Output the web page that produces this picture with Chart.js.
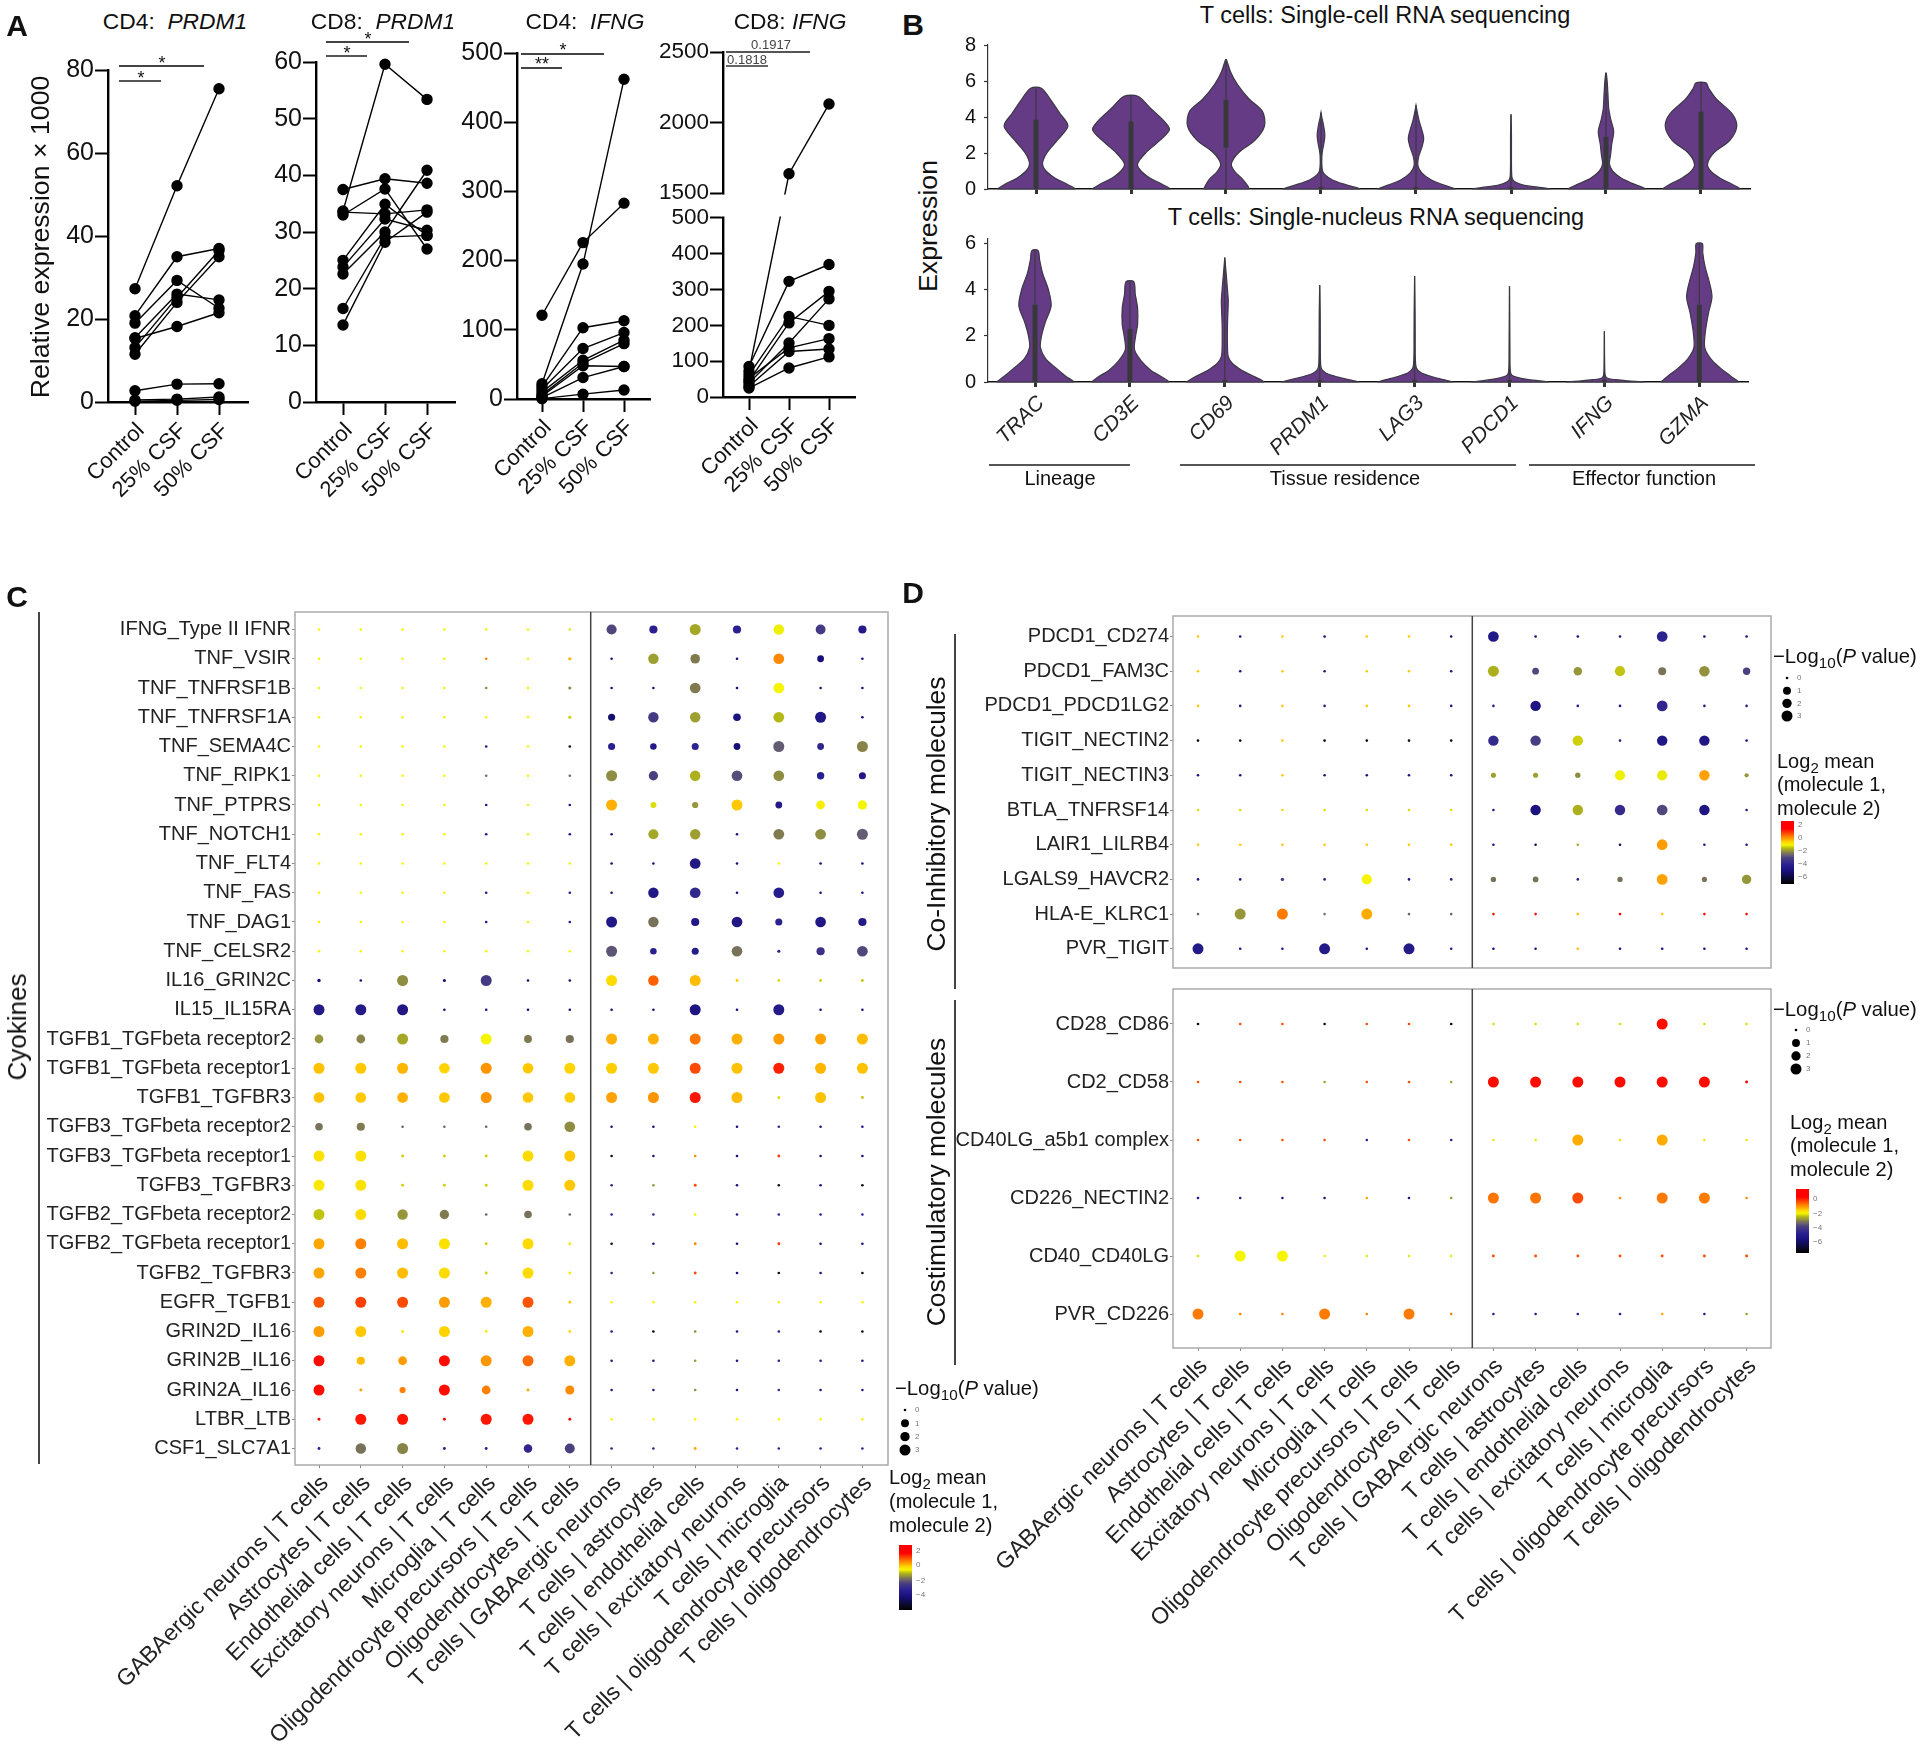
<!DOCTYPE html>
<html>
<head>
<meta charset="utf-8">
<title>T cells</title>
<script src="https://cdn.jsdelivr.net/npm/chart.js@4/dist/chart.umd.js"></script>
<style>
body { margin: 0; background: #fff; }
#page { position: relative; width: 1920px; height: 1747px; overflow: hidden; font-family: "Liberation Sans", Arial, sans-serif; color: #111; }
#page canvas { position: absolute; }
.t { position: absolute; white-space: nowrap; line-height: 1; }
.rule { position: absolute; }
.t sub { font-size: 0.75em; line-height: 0; }
</style>
</head>
<body>
<div id="page"></div>
<script>
// panel A
const conditions = ["Control", "25% CSF", "50% CSF"];
const cd4Prdm1 = [
  [27.3, 52.1, 75.5], [20.8, 35, 37], [19, 29.3, 22.6], [15.3, 18.2, 21.5], [15.5, 26, 24.6],
  [13.1, 25.2, 36.5], [11.5, 24, 35], [2.7, 4.3, 4.4], [0.5, 0.7, 1.2], [0.2, 0.4, 0.6]
];
const cd8Prdm1 = [
  [33.7, 59.6, 53.4], [37.5, 39.4, 38.6], [33, 37.6, 27], [33.5, 33.2, 33.9], [25, 34.9, 29.4],
  [23.8, 32.3, 30.3], [22.6, 30, 40.9], [16.5, 29.1, 29.4], [13.6, 28.2, 33.5]
];
const cd4Ifng = [
  [121, 226, 283], [22, 195, 462], [18, 103, 113], [14, 73, 96], [10, 56, 85],
  [6, 52, 80], [4, 48, 47], [2, 31, 47], [0.5, 7, 13]
];
const cd8Ifng = [
  [72, 1637, 2131], [85, 323, 370], [62, 225, 200], [45, 207, 295], [39, 151, 274],
  [52, 137, 163], [30, 127, 134], [25, 81, 112]
];
const brokenTicks = [0, 100, 200, 300, 400, 500, 1500, 2000, 2500];

// panel B, [expression, relative half width] going up each violin
const genes = ["TRAC", "CD3E", "CD69", "PRDM1", "LAG3", "PDCD1", "IFNG", "GZMA"];
const scViolins = [
  [[0,1],[.25,.82],[.6,.5],[1,.26],[1.4,.17],[2,.28],[2.7,.55],[3.5,.83],[4.2,.62],[4.9,.4],[5.6,.14]],
  [[0,1],[.25,.82],[.6,.5],[1,.26],[1.4,.17],[2,.38],[2.7,.75],[3.3,1],[3.8,.85],[4.5,.5],[5.15,.18]],
  [[0,.58],[.5,.45],[1,.22],[1.4,.14],[2,.32],[2.7,.75],[3.5,1],[4.3,.95],[5,.6],[5.8,.3],[6.5,.12],[7.2,.01]],
  [[0,1],[.2,.7],[.5,.3],[.8,.1],[1,.04],[1.5,.02],[2,.03],[2.6,.08],[3,.1],[3.5,.07],[4,.02],[4.25,0]],
  [[0,1],[.2,.75],[.5,.4],[.9,.15],[1.3,.05],[1.8,.07],[2.3,.15],[2.8,.2],[3.3,.15],[3.8,.08],[4.3,.03],[4.65,0]],
  [[0,1],[.1,.7],[.2,.35],[.4,.1],[.6,.03],[1,.015],[2,.012],[3,.012],[4.15,0]],
  [[0,1],[.3,.7],[.6,.4],[1,.17],[1.4,.09],[1.9,.12],[2.5,.15],[3.2,.2],[3.9,.12],[4.5,.07],[5.3,.05],[6,.03],[6.45,.005]],
  [[0,1],[.25,.82],[.6,.5],[1,.25],[1.4,.17],[2,.33],[2.7,.75],[3.5,.93],[4.2,.8],[5,.4],[5.6,.2],[5.9,.13]]
];
const snViolins = [
  [[0,1],[.25,.8],[.6,.55],[1,.28],[1.5,.14],[2,.17],[2.6,.27],[3.3,.42],[4,.35],[4.7,.2],[5.3,.12],[5.7,.08]],
  [[0,1],[.25,.8],[.5,.55],[.9,.3],[1.4,.12],[2,.15],[2.5,.2],[3.2,.2],[3.8,.14],[4.35,.1]],
  [[0,1],[.25,.75],[.5,.45],[.8,.2],[1.1,.09],[1.5,.07],[2.5,.07],[3.5,.09],[4,.07],[4.8,.03],[5.4,0]],
  [[0,1],[.1,.75],[.25,.4],[.4,.15],[.6,.04],[1,.02],[2,.015],[3,.012],[4.2,0]],
  [[0,.97],[.1,.75],[.25,.42],[.4,.17],[.6,.05],[1,.02],[2,.015],[3,.012],[4.6,0]],
  [[0,1],[.1,.5],[.2,.2],[.3,.06],[.5,.02],[1.5,.01],[4.15,0]],
  [[0,1],[.05,.6],[.1,.3],[.15,.1],[.25,.03],[.5,.01],[2.2,0]],
  [[0,1],[.25,.82],[.6,.55],[1,.3],[1.5,.14],[2.2,.16],[3,.24],[3.7,.33],[4.4,.25],[5,.15],[5.6,.09],[6,.08]]
];
const scBox = [[0,3.85],[0,3.75],[2.3,4.95],[0,.1],[0,.1],[0,.1],[0,2.9],[0,4.3]];
const snBox = [[0,3.35],[0,2.3],[0,.1],[0,.1],[0,.1],[0,.1],[0,.1],[0,3.35]];

// panels C and D
const pairs = [
  "GABAergic neurons | T cells", "Astrocytes | T cells", "Endothelial cells | T cells",
  "Excitatory neurons | T cells", "Microglia | T cells", "Oligodendrocyte precursors | T cells",
  "Oligodendrocytes | T cells", "T cells | GABAergic neurons", "T cells | astrocytes",
  "T cells | endothelial cells", "T cells | excitatory neurons", "T cells | microglia",
  "T cells | oligodendrocyte precursors", "T cells | oligodendrocytes"
];
const cytokines = [
  "IFNG_Type II IFNR", "TNF_VSIR", "TNF_TNFRSF1B", "TNF_TNFRSF1A", "TNF_SEMA4C", "TNF_RIPK1", "TNF_PTPRS",
  "TNF_NOTCH1", "TNF_FLT4", "TNF_FAS", "TNF_DAG1", "TNF_CELSR2", "IL16_GRIN2C", "IL15_IL15RA",
  "TGFB1_TGFbeta receptor2", "TGFB1_TGFbeta receptor1", "TGFB1_TGFBR3", "TGFB3_TGFbeta receptor2",
  "TGFB3_TGFbeta receptor1", "TGFB3_TGFBR3", "TGFB2_TGFbeta receptor2", "TGFB2_TGFbeta receptor1",
  "TGFB2_TGFBR3", "EGFR_TGFB1", "GRIN2D_IL16", "GRIN2B_IL16", "GRIN2A_IL16", "LTBR_LTB", "CSF1_SLC7A1"
];
const cytokineMean = [
  [-1,-1,-1,-1,-1,-1,-1.1, -2.9,-4,-1.7,-4,-1.05,-3.2,-4.3],
  [-1,-1,-1,-1,.3,-1,-.2, -5,-1.8,-2.2,-5,.2,-5,-5],
  [-1,-1,-1,-1,-2,-1,-2, -5,-5,-2.2,-5,-1,-5,-5],
  [-1,-1,-1,-1,-1,-1,-1.3, -5.2,-3.2,-1.8,-4.8,-1.5,-4.5,-5],
  [-1,-1,-1,-1,-4.5,-1,-6.5, -4,-4.3,-3.9,-5,-2.6,-3.8,-2.1],
  [-1,-1,-1,-1,-2.3,-1,-2.5, -2,-3,-1.6,-2.8,-2,-4,-4.5],
  [-1,-1,-1,-1,-4.5,-1,-4.5, -.2,-1.2,-1.9,-.4,-4.3,-.9,-1],
  [-1,-1,-1,-1,-4.5,-1,-4.5, -5,-1.7,-1.8,-5,-2.2,-2,-2.6],
  [-1,-1,-1,-1,-1,-1,-1, -5,-5,-4.5,-5,-1,-5,-5],
  [-1,-1,-1,-1,-4.5,-1,-4.5, -5,-4.5,-3.8,-5,-4.2,-5,-5],
  [-1,-1,-1,-1,-4.5,-1,-4.5, -4.5,-2.3,-4.5,-4.5,-4,-4.5,-4.4],
  [-1,-1,-1,-1,-1,-1,-1, -2.7,-4,-4.2,-2.3,-4,-3.5,-2.9],
  [-5,-5,-2,-5.2,-3.2,-5.2,-5.2, -.6,.6,-.3,-.4,-1.2,-1.3,-1.4],
  [-4.3,-4.3,-4.5,-5,-5,-5,-5, -5,-5,-4.7,-5,-4.3,-5,-5],
  [-1.9,-2.1,-1.7,-2.2,-1,-2.2,-2.3, -.2,-.2,.4,-.2,0,-.05,-.3],
  [-.35,-.4,-.25,-.5,.1,-.4,-.5, -.45,-.4,.8,-.35,1.2,-.25,-.35],
  [-.35,-.4,-.2,-.4,.1,-.4,-.45, -.05,.1,1.3,-.3,-1.2,-.35,-1.4],
  [-2.3,-2.2,-2.5,-2.5,-2.5,-2.3,-2, -5,-5,-1,-5,-3.8,-5,-4.5],
  [-.7,-.7,-1.3,-1.3,-1.3,-.6,-.4, -6.5,-5,.2,-5,1,-5,-5],
  [-.8,-.7,-1.3,-1.3,-1.3,-.6,-.4, -4,-1.9,.8,-5,-6.5,-5,-6.5],
  [-1.4,-.6,-1.9,-2.2,-2.5,-2.3,-2.5, -4,-4,-1,-4.2,-4,-4.2,-4.2],
  [-.1,.3,-.3,-.7,-1.3,-.6,-.8, -6.5,-5,.2,-5,1,-5,-5],
  [-.1,.3,-.3,-.6,-1.3,-.6,-.8, -4,-1.9,.8,-5,-6.5,-5,-6.5],
  [.7,.9,.8,0,-.2,.7,-.4, -1,-1,-1,-1,-1,-1,-1],
  [0,-.4,-.8,-.5,-.9,-.2,-.6, -4.5,-6.5,-2,-4.5,-4.2,-6.5,-6.5],
  [1.4,-.3,0,1.4,.05,.5,-.2, -4.5,-4.5,-1.9,-4.5,-4,-4.5,-4.5],
  [1.4,0,.3,1.4,.3,-.1,.2, -4.5,-4.5,-2,-4.5,-3.7,-4.5,-4.5],
  [1.5,1.3,1.3,1.5,1.3,1.3,1.5, -1,-1,-1,-1,-1,-1,-1],
  [-4,-2.3,-2.1,-4,-4,-3.8,-3, -4,-4,-.1,-4,-4,-4,-4]
];
const cytokineSize = [
  [0,0,0,0,0,0,0, 2.7,2,3,2,2.8,2.6,2],
  [0,0,0,0,0,0,.2, 0,2.8,2.5,0,2.9,1.5,0],
  [0,0,0,0,0,0,.2, 0,0,2.9,0,2.9,0,0],
  [0,0,0,0,0,0,.2, 1.6,2.8,2.8,1.8,2.9,3,0],
  [0,0,0,0,0,0,0, 1.6,1.4,1.6,1.5,3,1.5,3],
  [0,0,0,0,0,0,0, 3,2.4,2.8,2.9,2.9,1.7,1.6],
  [0,0,0,0,0,0,0, 3,1.2,1.3,3,1.5,2.2,2.4],
  [0,0,0,0,0,0,0, 0,2.7,2.8,0,2.9,2.9,3],
  [0,0,0,0,0,0,0, 0,0,2.9,0,0,0,0],
  [0,0,0,0,0,0,0, 0,2.8,2.9,0,2.9,0,0],
  [0,0,0,0,0,0,0, 3,2.8,2,2.9,1.6,2.9,2],
  [0,0,0,0,0,0,0, 3,1.4,1.6,2.9,.2,2,2.9],
  [.3,0,3,.2,3,0,0, 3,2.8,3,.1,.1,.1,.1],
  [3,3,3,0,0,0,0, 0,0,3,0,3,0,0],
  [2.2,2.2,3,2,3,1.9,2, 3,3,3,3,3,3,3],
  [3,3,3,2.9,3,2.9,3, 3,3,3,3,3,3,3],
  [2.9,2.9,2.9,2.9,3,2.9,2.9, 3,3,3,3,.15,3,.1],
  [1.8,2,0,0,0,1.8,2.9, 0,0,0,0,0,0,0],
  [3,3,.1,.1,.1,3,3, 0,0,0,0,.1,0,0],
  [3,3,.1,.1,.1,3,3, 0,0,.1,0,0,0,0],
  [3,3,2.8,2.4,0,1.8,0, 0,0,0,0,0,0,0],
  [3,3,3,3,.1,3,.1, 0,0,.1,0,.1,0,0],
  [3,3,3,3,.1,3,.1, 0,0,.1,0,0,0,0],
  [3,3,3,3,3,3,.1, 0,0,0,0,0,0,0],
  [3,3,.1,3,.1,3,.1, 0,0,0,0,0,0,0],
  [3,2,2.2,3,3,3,3, 0,0,0,0,0,0,0],
  [3,.1,1.3,3,2.2,.1,2.3, 0,0,0,0,0,0,0],
  [.1,3,3,.1,3,3,.1, 0,0,0,0,0,0,0],
  [.1,2.8,3,.1,.1,2.1,2.6, 0,0,.1,0,0,0,0]
];
const inhibitory = [
  "PDCD1_CD274", "PDCD1_FAM3C", "PDCD1_PDCD1LG2", "TIGIT_NECTIN2", "TIGIT_NECTIN3",
  "BTLA_TNFRSF14", "LAIR1_LILRB4", "LGALS9_HAVCR2", "HLA-E_KLRC1", "PVR_TIGIT"
];
const inhibitoryMean = [
  [-.4,-5,-.4,-5,-.4,-.4,-5, -4.4,-5,-5,-5,-3.9,-5,-5],
  [-.4,-4.5,-.4,-4.5,-.4,-.4,-4.5, -1.6,-2.9,-1.9,-1.4,-2.3,-1.95,-3],
  [-.4,-4.5,-.4,-4.5,-.4,-.4,-4.5, -4.5,-4.7,-4.5,-4.5,-3.8,-4.5,-4.5],
  [-6.5,-6.5,-.4,-6.5,-6.5,-6.5,-6.5, -3.7,-3.1,-1.3,-4.5,-4.5,-4.5,-4.5],
  [-4.8,-4.8,-.4,-4.8,-4.8,-4.8,-4.8, -1.8,-1.8,-2,-1.05,-1.1,-.05,-1.9],
  [-1.2,-1.2,-.5,-1.2,-1.2,-1.2,-1.2, -4.5,-4.8,-1.6,-3.7,-2.9,-4.6,-4.5],
  [-.4,-.4,-.4,-.4,-.4,-.4,-.4, -4.5,-5.5,-1.7,-5.5,0,-4.5,-4.5],
  [-4.5,-4.5,-3.1,-4.5,-1,-4.5,-4.5, -2.3,-2.3,-4.5,-2.3,-.05,-2.3,-1.9],
  [-2.5,-1.9,.35,-2.3,-.15,-2.5,-2.5, 1.4,1.4,-.3,1.4,-.4,1.4,1.4],
  [-4.3,-4.5,-4.5,-4.3,-4.5,-4.3,-4.5, -4.7,-4.7,-.3,-4.7,-4.7,-4.7,-4.7]
];
const inhibitorySize = [
  [0,0,0,0,0,0,0, 2.9,0,0,0,2.9,0,0],
  [0,0,0,0,0,0,0, 3,1.5,2.1,2.7,1.9,2.8,1.7],
  [0,0,0,0,0,0,0, 0,2.8,0,0,2.9,0,0],
  [0,0,0,0,0,0,0, 2.8,2.8,2.8,0,2.8,2.8,0],
  [0,0,0,0,0,0,0, .9,.9,1,2.7,2.7,2.8,.6],
  [0,0,0,0,0,0,0, 0,2.8,2.8,2.8,2.9,2.8,0],
  [0,0,0,0,0,0,0, 0,0,0,0,2.9,0,0],
  [0,0,.3,0,2.7,0,0, 1,1.1,0,1,2.9,.9,2.4],
  [0,3,3,0,3,0,0, 0,0,0,0,0,0,0],
  [3,0,0,3,0,3,0, 0,0,0,0,0,0,0]
];
const costimulatory = ["CD28_CD86", "CD2_CD58", "CD40LG_a5b1 complex", "CD226_NECTIN2", "CD40_CD40LG", "PVR_CD226"];
const costimulatoryMean = [
  [-6.5,.8,.8,-6.5,.8,.8,-6.5, -1.2,-1.2,-1.2,-1.2,1.4,-1.2,-1.2],
  [.8,.8,.8,-1.8,.8,.8,-1.8, 1.4,1.4,1.4,1.4,1.4,1.4,1.5],
  [.8,.8,.8,.8,-4,.8,-4, -1.1,-1.1,-.15,-1.1,-.15,-1.1,-1.1],
  [-4.5,-4.5,-4.5,-4.5,-.1,-4.5,-1.9, .4,.4,.8,.2,.35,.35,.2],
  [-1.2,-1,-1,-1.1,-1.1,-1.1,-1.1, .8,.8,.8,.8,.8,.8,.8],
  [.35,.3,.3,.35,.3,.35,.3, -4.3,-4.3,-4.3,-4.3,-.1,-4.3,-1.8]
];
const costimulatorySize = [
  [0,0,0,0,0,0,0, 0,0,0,0,3,0,0],
  [0,0,0,0,0,0,0, 3,3,3,3,3,3,.1],
  [0,0,0,0,0,0,0, 0,0,3,0,3,0,0],
  [0,0,0,0,0,0,0, 3,3,3,0,3,3,0],
  [0,3,3,0,0,0,0, .1,.1,.1,.1,.1,.1,.1],
  [3,0,0,3,0,3,0, 0,0,0,0,0,0,0]
];
const legendLevels = [0, 1.9, 2.4, 3];
const legendNames = ["0", "1", "2", "3"];
// log2 mean -> colour
const meanStops = [
  [2.7, "#ff0000"], [1.5, "#ff0000"], [.8, "#ff4a00"], [.3, "#ff8000"], [-.2, "#ffb000"], [-.5, "#ffd400"],
  [-1, "#f5f500"], [-1.5, "#b4b814"], [-1.9, "#96963a"], [-2.2, "#7f7a50"], [-2.5, "#6b6370"], [-3, "#4a4080"],
  [-4, "#2a2090"], [-5, "#17107a"], [-6.5, "#08081a"], [-7, "#000000"]
];

const page = document.getElementById("page");

function hex(c) {
  return [1, 3, 5].map(i => parseInt(c.substr(i, 2), 16));
}
function meanColor(v) {
  for (let i = 1; i < meanStops.length; i++) {
    if (v >= meanStops[i][0]) {
      const a = meanStops[i - 1], b = meanStops[i];
      const f = (v - b[0]) / (a[0] - b[0]);
      const ca = hex(a[1]), cb = hex(b[1]);
      return "rgb(" + ca.map((x, k) => Math.round(cb[k] + (x - cb[k]) * f)).join(",") + ")";
    }
  }
  return "#000";
}

function txt(html, x, y, o) {
  o = o || {};
  const el = document.createElement("div");
  el.className = "t";
  el.innerHTML = html;
  el.style.left = x + "px";
  el.style.top = y + "px";
  el.style.fontSize = (o.size || 20) + "px";
  if (o.weight) el.style.fontWeight = o.weight;
  if (o.color) el.style.color = o.color;
  const ax = o.anchor === "l" ? "0" : "-50%";
  el.style.transform = "translate(" + ax + ",-50%)" + (o.rotate ? " rotate(" + o.rotate + "deg)" : "");
  page.appendChild(el);
}
function rule(x0, y0, x1, y1, color, w) {
  const el = document.createElement("div");
  el.className = "rule";
  w = w || 1.5;
  el.style.left = x0 + "px";
  el.style.top = y0 + "px";
  el.style.width = (x1 > x0 ? x1 - x0 : w) + "px";
  el.style.height = (y1 > y0 ? y1 - y0 : w) + "px";
  el.style.background = color || "#555";
  page.appendChild(el);
}

// canvas placed so that the plot area lands exactly on the given box
function frame(plot, m) {
  const c = document.createElement("canvas");
  const w = plot.r - plot.l + m.l + m.r, h = plot.b - plot.t + m.t + m.b;
  c.style.left = (plot.l - m.l) + "px";
  c.style.top = (plot.t - m.t) + "px";
  c.style.width = w + "px";
  c.style.height = h + "px";
  c.width = w;
  c.height = h;
  page.appendChild(c);
  return {
    ctx: c.getContext("2d"),
    padding: { left: 0, top: m.t, right: m.r, bottom: 0 },
    fitY: s => { s.width = m.l; s.paddingTop = 0; s.paddingBottom = 0; },
    fitX: s => { s.height = m.b; s.paddingLeft = 0; s.paddingRight = 0; }
  };
}
const baseOptions = { responsive: false, animation: false, events: [], devicePixelRatio: 1 };
const quiet = { legend: { display: false }, tooltip: { enabled: false } };

class BrokenAxis extends Chart.LinearScale {
  getPixelForValue(v) {
    const h = this.bottom - this.top;
    if (v <= 500) return this.bottom - (v / 500) * h * 0.519;
    if (v <= 1500) return this.bottom - (0.519 + (v - 500) / 1000 * 0.072) * h;
    return this.bottom - (0.591 + (v - 1500) / 1000 * 0.409) * h;
  }
}
BrokenAxis.id = "brokenAxis";
BrokenAxis.defaults = Chart.LinearScale.defaults;
Chart.register(BrokenAxis);

const gapPlugin = {
  id: "gapPlugin",
  afterDatasetsDraw(chart) {
    const y = chart.scales.y, ctx = chart.ctx;
    const left = chart.chartArea.left - 2;
    ctx.fillStyle = "#fff";
    ctx.fillRect(left, y.getPixelForValue(1500) + 1.5, chart.width - left, y.getPixelForValue(500) - y.getPixelForValue(1500) - 3);
  }
};

function linePanel(series, plot, xs, yOpts, extra) {
  const f = frame(plot, { l: 85, t: 14, r: 10, b: 100 });
  const step = xs[1] - xs[0];
  new Chart(f.ctx, {
    type: "scatter",
    plugins: extra ? [extra] : [],
    data: {
      datasets: series.map(s => ({
        data: s.map((v, i) => ({ x: i + 1, y: v })),
        showLine: true,
        borderColor: "#000",
        borderWidth: 1.4,
        backgroundColor: "#000",
        pointRadius: 5,
        clip: false
      }))
    },
    options: Object.assign({}, baseOptions, {
      layout: { padding: f.padding, autoPadding: false },
      plugins: quiet,
      scales: {
        x: {
          type: "linear",
          min: 1 + (plot.l - xs[0]) / step,
          max: 1 + (plot.r - xs[0]) / step,
          afterFit: f.fitX,
          afterBuildTicks: s => { s.ticks = conditions.map((_, i) => ({ value: i + 1 })); },
          border: { color: "#000", width: 2.4 },
          grid: { drawOnChartArea: false, tickLength: 13, tickWidth: 2, tickColor: "#000" },
          ticks: {
            autoSkip: false, minRotation: 45, maxRotation: 45, padding: 3, labelOffset: 6,
            color: "#111", font: { family: "Liberation Sans", size: 22 },
            callback: v => conditions[v - 1]
          }
        },
        y: Object.assign({
          afterFit: f.fitY,
          border: { color: "#000", width: 2.4 },
          grid: { drawOnChartArea: false, tickLength: 13, tickWidth: 2, tickColor: "#000" }
        }, yOpts)
      }
    })
  });
}
const tickFontA = { color: "#111", padding: 1, font: { family: "Liberation Sans", size: 25 } };

linePanel(cd4Prdm1, { l: 108, t: 70, r: 248, b: 402 }, [135, 177, 219],
  { min: 0, max: 80, ticks: Object.assign({ stepSize: 20 }, tickFontA) });
linePanel(cd8Prdm1, { l: 316, t: 62, r: 455, b: 402 }, [343, 385, 427],
  { min: 0, max: 60, ticks: Object.assign({ stepSize: 10 }, tickFontA) });
linePanel(cd4Ifng, { l: 517, t: 53, r: 650, b: 399 }, [542, 583, 623],
  { min: 0, max: 500, ticks: Object.assign({ stepSize: 100 }, tickFontA) });
linePanel(cd8Ifng, { l: 723, t: 52, r: 855, b: 397 }, [749, 789, 829],
  {
    type: "brokenAxis", min: 0, max: 2500,
    afterBuildTicks: s => { s.ticks = brokenTicks.map(v => ({ value: v })); },
    ticks: {
      color: "#111", padding: 1, font: { family: "Liberation Sans", size: 22.5 },
      callback: v => String(v)
    }
  }, gapPlugin);

txt("CD4:&nbsp; <i>PRDM1</i>", 175, 21, { size: 22.8 });
txt("CD8:&nbsp; <i>PRDM1</i>", 383, 21, { size: 22.8 });
txt("CD4:&nbsp; <i>IFNG</i>", 585, 21, { size: 22.8 });
txt("CD8: <i>IFNG</i>", 790, 21, { size: 22.8 });
txt("Relative expression × 1000", 40, 237, { size: 26.7, rotate: -90 });

// significance brackets
rule(119, 65, 204, 65, "#444"); txt("*", 162, 63, { size: 18 });
rule(119, 80, 161, 80, "#555"); txt("*", 141, 78, { size: 18 });
rule(326, 41, 409, 41, "#444"); txt("*", 368, 39, { size: 18 });
rule(326, 55, 367, 55, "#555"); txt("*", 347, 53, { size: 18 });
rule(521, 53, 604, 53, "#444"); txt("*", 563, 50, { size: 18 });
rule(521, 67, 562, 67, "#444"); txt("**", 542, 64, { size: 18 });
rule(726, 51, 810, 51, "#555"); txt("0.1917", 771, 44, { size: 13, color: "#444" });
rule(726, 65, 768, 65, "#666"); txt("0.1818", 747, 59, { size: 13, color: "#444" });

function violinPanel(violins, boxes, plot, first, step, yMax, withLabels) {
  const f = frame(plot, { l: 40, t: 8, r: 10, b: withLabels ? 90 : 10 });
  const datasets = [];
  violins.forEach((profile, g) => {
    const c = g + 1;
    const left = profile.map(p => ({ x: c - p[1] * 0.405, y: p[0] }));
    const right = profile.map(p => ({ x: c + p[1] * 0.405, y: p[0] })).reverse();
    datasets.push({
      data: left.concat(right, [left[0]]),
      showLine: true,
      tension: 0.3,
      fill: "shape",
      backgroundColor: "#643b84",
      borderColor: "#3d3846",
      borderWidth: 1.2,
      pointRadius: 0,
      clip: false,
      order: 3
    });
    datasets.push({
      data: [{ x: c, y: profile[0][0] }, { x: c, y: profile[profile.length - 1][0] }],
      showLine: true, borderColor: "#3a3a3e", borderWidth: 1.2, pointRadius: 0, order: 2
    });
    datasets.push({
      data: [{ x: c, y: boxes[g][0] }, { x: c, y: boxes[g][1] }],
      showLine: true, borderColor: "#38383c", borderWidth: 5, pointRadius: 0, clip: false, order: 1
    });
  });
  new Chart(f.ctx, {
    type: "scatter",
    data: { datasets: datasets },
    options: Object.assign({}, baseOptions, {
      layout: { padding: f.padding, autoPadding: false },
      plugins: quiet,
      scales: {
        x: {
          type: "linear",
          min: 1 + (plot.l - first) / step,
          max: 1 + (plot.r - first) / step,
          afterFit: f.fitX,
          afterBuildTicks: s => { s.ticks = genes.map((_, i) => ({ value: i + 1 })); },
          border: { color: "#111", width: 1.5 },
          grid: { drawOnChartArea: false, tickLength: 5, tickWidth: 3, tickColor: "#333" },
          ticks: {
            display: !!withLabels, autoSkip: false, minRotation: 45, maxRotation: 45, padding: 4, labelOffset: 6,
            color: "#222", font: { family: "Liberation Sans", size: 21, style: "italic" },
            callback: v => genes[v - 1]
          }
        },
        y: {
          min: 0, max: yMax,
          afterFit: f.fitY,
          afterBuildTicks: s => { s.ticks = [0, 2, 4, 6, 8].filter(v => v <= yMax).map(v => ({ value: v })); },
          border: { color: "#333", width: 1.2 },
          grid: { drawOnChartArea: false, tickLength: 4, tickWidth: 1.2, tickColor: "#333" },
          ticks: { color: "#111", padding: 8, font: { family: "Liberation Sans", size: 20 } }
        }
      }
    })
  });
}
violinPanel(scViolins, scBox, { l: 988, t: 45, r: 1750, b: 189 }, 1036, 95, 8, false);
violinPanel(snViolins, snBox, { l: 988, t: 239, r: 1748, b: 382 }, 1035, 94.9, 6.2, true);

txt("T cells: Single-cell RNA sequencing", 1385, 16, { size: 23.5 });
txt("T cells: Single-nucleus RNA sequencing", 1376, 218, { size: 23.5 });
txt("Expression", 928, 226, { size: 26.7, rotate: -90 });
rule(989, 464, 1130, 464, "#555"); txt("Lineage", 1060, 478, { size: 20 });
rule(1180, 464, 1516, 464, "#555"); txt("Tissue residence", 1345, 478, { size: 20 });
rule(1529, 464, 1755, 464, "#555"); txt("Effector function", 1644, 478, { size: 20 });

function sizeRadius(level) {
  return 1.3 + 1.4 * level;
}
const boxPlugin = {
  id: "boxPlugin",
  beforeDatasetsDraw(chart) {
    const a = chart.chartArea, ctx = chart.ctx;
    const mid = chart.scales.x.getPixelForValue(7.5);
    ctx.strokeStyle = "#aaa";
    ctx.lineWidth = 1.5;
    ctx.strokeRect(a.left, a.top, a.right - a.left, a.bottom - a.top);
    ctx.strokeStyle = "#444";
    ctx.beginPath();
    ctx.moveTo(mid, a.top);
    ctx.lineTo(mid, a.bottom);
    ctx.stroke();
  }
};

function dotPanel(rows, mean, size, plot, col0, colStep, row0, rowStep, withLabels) {
  const f = frame(plot, { l: 290, t: 4, r: 6, b: withLabels ? 290 : 4 });
  const points = [], colors = [];
  rows.forEach((_, r) => {
    pairs.forEach((__, c) => {
      points.push({ x: c + 1, y: r, r: sizeRadius(size[r][c]) });
      colors.push(meanColor(mean[r][c]));
    });
  });
  new Chart(f.ctx, {
    type: "bubble",
    plugins: [boxPlugin],
    data: { datasets: [{ data: points, backgroundColor: colors, borderWidth: 0, clip: false }] },
    options: Object.assign({}, baseOptions, {
      layout: { padding: f.padding, autoPadding: false },
      plugins: quiet,
      scales: {
        x: {
          type: "linear",
          min: 1 + (plot.l - col0) / colStep,
          max: 1 + (plot.r - col0) / colStep,
          afterFit: f.fitX,
          afterBuildTicks: s => { s.ticks = pairs.map((_, i) => ({ value: i + 1 })); },
          border: { display: false },
          grid: { drawOnChartArea: false, drawTicks: !!withLabels, tickLength: 3, tickWidth: 1, tickColor: "#888" },
          ticks: {
            display: !!withLabels, autoSkip: false, minRotation: 45, maxRotation: 45, padding: 2, labelOffset: 6,
            color: "#222", font: { family: "Liberation Sans", size: 23 },
            callback: v => pairs[v - 1]
          }
        },
        y: {
          type: "linear",
          reverse: true,
          min: (plot.t - row0) / rowStep,
          max: (plot.b - row0) / rowStep,
          afterFit: f.fitY,
          afterBuildTicks: s => { s.ticks = rows.map((_, i) => ({ value: i })); },
          border: { display: false },
          grid: { drawOnChartArea: false, tickLength: 3, tickWidth: 1, tickColor: "#888" },
          ticks: {
            autoSkip: false, padding: 1,
            color: "#222", font: { family: "Liberation Sans", size: 20 },
            callback: v => rows[v]
          }
        }
      }
    })
  });
}
dotPanel(cytokines, cytokineMean, cytokineSize, { l: 295, t: 612, r: 888, b: 1465 }, 319, 41.8, 629.5, 29.25, true);
dotPanel(inhibitory, inhibitoryMean, inhibitorySize, { l: 1173, t: 616, r: 1771, b: 968 }, 1198, 42.2, 636.5, 34.7, false);
dotPanel(costimulatory, costimulatoryMean, costimulatorySize, { l: 1173, t: 989, r: 1771, b: 1348 }, 1198, 42.2, 1024, 58, true);

function sizeLegend(cx, y0, y3) {
  const plot = { l: cx - 8, r: cx + 8, t: y0 - 7, b: y3 + 7 };
  const f = frame(plot, { l: 0, t: 0, r: 20, b: 0 });
  const step = (y3 - y0) / 3;
  new Chart(f.ctx, {
    type: "bubble",
    data: {
      datasets: [{
        data: legendLevels.map((v, i) => ({ x: 0, y: i, r: sizeRadius(v) })),
        backgroundColor: "#000", borderWidth: 0, clip: false
      }]
    },
    options: Object.assign({}, baseOptions, {
      layout: { padding: { right: 0, left: 0, top: 0, bottom: 0 }, autoPadding: false },
      plugins: quiet,
      scales: {
        x: { display: false, min: -1, max: 1 },
        y: {
          position: "right",
          reverse: true,
          min: -7 / step,
          max: 3 + 7 / step,
          afterFit: s => { s.width = 20; s.paddingTop = 0; s.paddingBottom = 0; },
          afterBuildTicks: s => { s.ticks = legendNames.map((_, i) => ({ value: i })); },
          border: { display: false },
          grid: { display: false, drawTicks: false },
          ticks: { padding: 2, color: "#777", font: { family: "Liberation Sans", size: 8 }, callback: v => legendNames[v] }
        }
      }
    })
  });
}
function colorBar(x0, x1, y0, y1, labels) {
  const el = document.createElement("div");
  el.className = "rule";
  el.style.left = x0 + "px";
  el.style.top = y0 + "px";
  el.style.width = (x1 - x0) + "px";
  el.style.height = (y1 - y0) + "px";
  const parts = meanStops.map(s => s[1] + " " + ((2.7 - s[0]) / 9.7 * 100).toFixed(1) + "%");
  el.style.background = "linear-gradient(to bottom," + parts.join(",") + ")";
  page.appendChild(el);
  labels.forEach(l => txt(l[0], x1 + 4, l[1], { size: 8, color: "#777", anchor: "l" }));
}
function legendTitle(x, y) {
  txt("−Log<sub>10</sub>(<i>P</i> value)", x, y, { size: 20.3, anchor: "l" });
}
function meanTitle(x, y0, y1, y2) {
  txt("Log<sub>2</sub> mean", x, y0, { size: 20, anchor: "l" });
  txt("(molecule 1,", x, y1, { size: 20, anchor: "l" });
  txt("molecule 2)", x, y2, { size: 20, anchor: "l" });
}

legendTitle(895, 1388);
sizeLegend(905, 1410, 1450);
meanTitle(889, 1477, 1501, 1525);
colorBar(899, 912, 1545, 1610, [["2", 1551], ["0", 1565], ["−2", 1581], ["−4", 1595]]);

legendTitle(1773, 656);
sizeLegend(1787, 678, 716);
meanTitle(1777, 761, 784, 808);
colorBar(1781, 1794, 821, 884, [["2", 825], ["0", 838], ["−2", 851], ["−4", 864], ["−6", 877]]);

legendTitle(1773, 1009);
sizeLegend(1796, 1030, 1069);
meanTitle(1790, 1122, 1145, 1169);
colorBar(1796, 1809, 1189, 1253, [["0", 1199], ["−2", 1214], ["−4", 1228], ["−6", 1242]]);

rule(38, 612, 38, 1464, "#444");
txt("Cyokines", 17, 1027, { size: 26, rotate: -90 });
rule(954, 634, 954, 989, "#444");
txt("Co-Inhibitory molecules", 936, 814, { size: 26.3, rotate: -90 });
rule(954, 1000, 954, 1365, "#444");
txt("Costimulatory molecules", 936, 1182, { size: 26.5, rotate: -90 });

txt("A", 17, 26, { size: 30, weight: "bold" });
txt("B", 913, 25, { size: 30, weight: "bold" });
txt("C", 17, 597, { size: 30, weight: "bold" });
txt("D", 913, 593, { size: 30, weight: "bold" });
</script>
</body>
</html>
